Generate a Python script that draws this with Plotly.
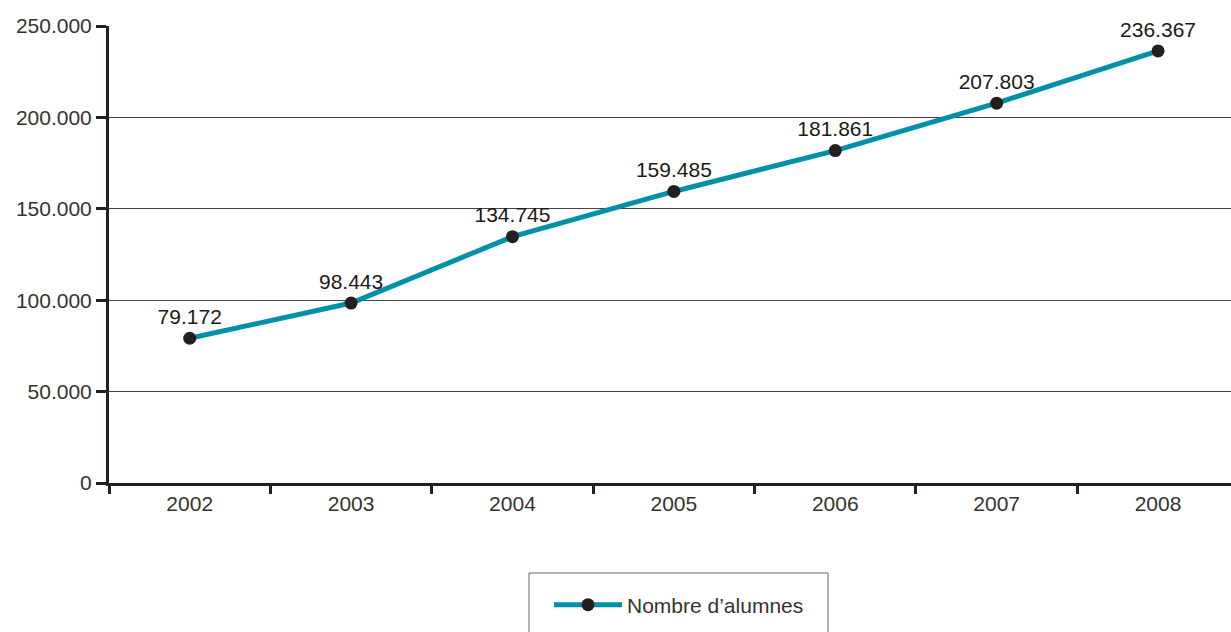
import plotly.graph_objects as go

years = ["2002", "2003", "2004", "2005", "2006", "2007", "2008"]
alumnes = [79172, 98443, 134745, 159485, 181861, 207803, 236367]
labels = ["79.172", "98.443", "134.745", "159.485", "181.861", "207.803", "236.367"]
y_ticks = [0, 50000, 100000, 150000, 200000, 250000]
y_ticktext = ["0", "50.000", "100.000", "150.000", "200.000", "250.000"]

FONT = "Liberation Sans, Arial, Helvetica, sans-serif"

fig = go.Figure()
fig.add_trace(go.Scatter(
    x=years, y=alumnes, mode="lines+markers+text",
    name="Nombre d’alumnes",
    text=labels, textposition="top center",
    textfont=dict(family=FONT, size=21, color="#1a1a1a"),
    line=dict(color="#0090A8", width=5),
    marker=dict(color="#231F20", size=13),
    cliponaxis=False,
))

# legend frame (extends past the bottom edge, as in the original)
fig.add_shape(type="rect", xref="paper", yref="paper",
              x0=(529 - 109) / 1122, x1=(828 - 109) / 1122,
              y0=(483 - 573) / 457, y1=(483 - 660) / 457,
              line=dict(color="#666666", width=1), fillcolor="rgba(0,0,0,0)")

fig.update_layout(
    width=1231, height=632,
    margin=dict(l=109, r=0, t=26, b=149, autoexpand=False),
    paper_bgcolor="white", plot_bgcolor="white",
    font=dict(family=FONT, size=21, color="#333333"),
    showlegend=True,
    legend=dict(
        orientation="h", x=(549 - 109) / 1122, xanchor="left",
        y=(483 - 605) / 457, yanchor="middle",
        borderwidth=0, bgcolor="rgba(0,0,0,0)",
        font=dict(family=FONT, size=21, color="#333333"),
        itemwidth=68,
    ),
    xaxis=dict(
        type="category", range=[-0.5, 6.452],
        tickson="boundaries", ticks="outside", ticklen=8, tickwidth=2.5, tickcolor="#231F20",
        showline=True, linecolor="#231F20", linewidth=3,
        showgrid=False, zeroline=False,
        tickfont=dict(family=FONT, size=21, color="#333333"),
    ),
    yaxis=dict(
        range=[0, 250000], tickvals=y_ticks, ticktext=y_ticktext,
        ticks="outside", ticklen=10, tickwidth=3, tickcolor="#231F20",
        showline=True, linecolor="#231F20", linewidth=3,
        showgrid=True, gridcolor="#444444", gridwidth=1,
        zeroline=False,
        tickfont=dict(family=FONT, size=21, color="#333333"),
    ),
)

fig.write_html(
    "out.html",
    config={"displayModeBar": False},
    post_script="document.body.style.margin='0';document.body.style.overflow='hidden';",
)
